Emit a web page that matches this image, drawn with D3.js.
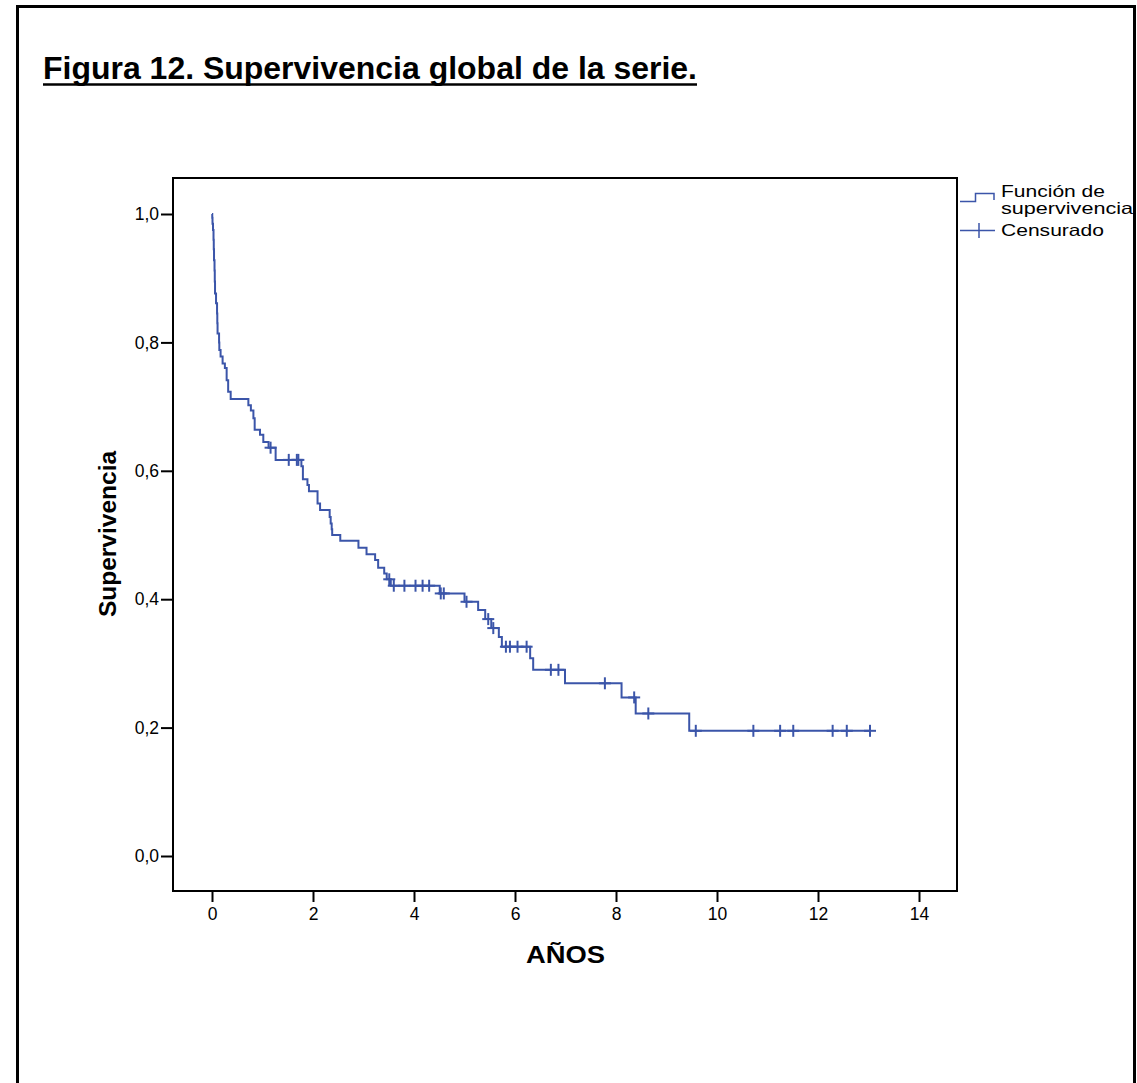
<!DOCTYPE html>
<html>
<head>
<meta charset="utf-8">
<script src="https://cdn.jsdelivr.net/npm/d3@7"></script>
<style>
  html, body { margin: 0; padding: 0; background: #fff; }
  svg { display: block; }
  text { font-family: "Liberation Sans", Arial, sans-serif; }
</style>
</head>
<body>
<svg id="chart" width="1137" height="1083"></svg>
<script>
// Kaplan-Meier estimate: event times (years) and survival after each drop
const eventTimes = [
  0.005, 0.010, 0.020, 0.030, 0.035, 0.040, 0.050, 0.055, 0.060, 0.080,
  0.100, 0.105, 0.110, 0.140, 0.145, 0.170, 0.210, 0.255, 0.290, 0.320,
  0.370, 0.720, 0.770, 0.820, 0.845, 0.950, 1.016, 1.120, 1.260, 1.770,
  1.800, 1.890, 1.920, 2.090, 2.140, 2.330, 2.350, 2.370, 2.380, 2.540,
  2.900, 3.060, 3.230, 3.290, 3.410, 3.460, 3.540, 4.510, 5.000, 5.270,
  5.410, 5.530, 5.680, 5.740, 6.300, 6.360, 6.990, 8.110, 8.390, 9.450
];
const survival = [
  0.994, 0.985, 0.975, 0.960, 0.945, 0.928, 0.912, 0.895, 0.876, 0.861,
  0.845, 0.830, 0.814, 0.800, 0.788, 0.778, 0.767, 0.760, 0.741, 0.723,
  0.712, 0.702, 0.694, 0.682, 0.664, 0.656, 0.645, 0.636, 0.617, 0.607,
  0.587, 0.578, 0.568, 0.549, 0.539, 0.528, 0.518, 0.509, 0.500, 0.491,
  0.480, 0.470, 0.461, 0.449, 0.440, 0.431, 0.421, 0.409, 0.396, 0.383,
  0.369, 0.355, 0.341, 0.326, 0.308, 0.290, 0.269, 0.247, 0.222, 0.195
];
// Censored observations (years)
const censoredTimes = [
  1.16, 1.52, 1.68, 1.71, 3.51, 3.60, 3.81, 4.03, 4.17, 4.30,
  4.53, 4.59, 5.04, 5.47, 5.57, 5.82, 5.90, 6.05, 6.23, 6.71,
  6.86, 7.78, 8.36, 8.64, 9.58, 10.72, 11.25, 11.51, 12.29, 12.57, 13.03
];
const xTicks = [0, 2, 4, 6, 8, 10, 12, 14];
const yTicks = [0, 0.2, 0.4, 0.6, 0.8, 1.0];

const titleText = "Figura 12. Supervivencia global de la serie.";
const xTitle = "AÑOS";
const yTitle = "Supervivencia";
const legendLabels = ["Función de", "supervivencia", "Censurado"];

const lineColor = "#3b55a9";
const svg = d3.select("#chart");

// page frame
svg.append("path")
  .attr("d", "M17.5,1090 V6.5 H1134.5 V1090")
  .attr("fill", "none").attr("stroke", "#000").attr("stroke-width", 3);

// title with underline
svg.append("text")
  .attr("x", 43).attr("y", 79)
  .attr("font-size", 32).attr("font-weight", "bold")
  .attr("textLength", 654).attr("lengthAdjust", "spacingAndGlyphs")
  .text(titleText);
svg.append("line")
  .attr("x1", 43).attr("x2", 697).attr("y1", 84.5).attr("y2", 84.5)
  .attr("stroke", "#000").attr("stroke-width", 2.5);

// plot area
const frame = { left: 173, right: 957, top: 178, bottom: 891 };
const x = d3.scaleLinear().domain([0, 14]).range([212, 919]);
const y = d3.scaleLinear().domain([0, 1]).range([856, 214]);

svg.append("rect")
  .attr("x", frame.left).attr("y", frame.top)
  .attr("width", frame.right - frame.left).attr("height", frame.bottom - frame.top)
  .attr("fill", "none").attr("stroke", "#000").attr("stroke-width", 2);

const fmt = d => d.toFixed(1).replace(".", ",");

const yAxis = svg.append("g")
  .attr("transform", `translate(${frame.left},0)`)
  .call(d3.axisLeft(y).tickValues(yTicks).tickSize(12).tickPadding(2).tickFormat(fmt));
const xAxis = svg.append("g")
  .attr("transform", `translate(0,${frame.bottom})`)
  .call(d3.axisBottom(x).tickValues(xTicks).tickSize(11).tickPadding(6).tickFormat(d3.format("d")));
[xAxis, yAxis].forEach(g => {
  g.select(".domain").remove();
  g.selectAll(".tick line").attr("stroke", "#000").attr("stroke-width", 2);
  g.selectAll(".tick text").attr("font-size", 17.5).attr("fill", "#000")
    .attr("font-family", "'Liberation Sans', Arial, sans-serif");
});

// axis titles
svg.append("text")
  .attr("x", 526).attr("y", 963)
  .attr("font-size", 24).attr("font-weight", "bold")
  .attr("textLength", 79).attr("lengthAdjust", "spacingAndGlyphs")
  .text(xTitle);
svg.append("text")
  .attr("transform", "translate(116,534) rotate(-90)")
  .attr("text-anchor", "middle").attr("font-size", 24.5).attr("font-weight", "bold")
  .text(yTitle);

// survival step function
const steps = [[0, 1]].concat(eventTimes.map((t, i) => [t, survival[i]]));
steps.push([d3.max(censoredTimes), survival[survival.length - 1]]);
const line = d3.line().x(d => x(d[0])).y(d => y(d[1])).curve(d3.curveStepAfter);
svg.append("path")
  .datum(steps)
  .attr("d", line)
  .attr("fill", "none").attr("stroke", lineColor).attr("stroke-width", 2);

// survival at a given time
const bis = d3.bisector(d => d).right;
const survAt = t => { const i = bis(eventTimes, t); return i === 0 ? 1 : survival[i - 1]; };

// censor marks
const marks = svg.append("g").attr("stroke", lineColor).attr("stroke-width", 2);
censoredTimes.forEach(t => {
  const cx = x(t), cy = y(survAt(t));
  marks.append("line").attr("x1", cx).attr("x2", cx).attr("y1", cy - 6).attr("y2", cy + 6);
  marks.append("line").attr("x1", cx - 6).attr("x2", cx + 6).attr("y1", cy).attr("y2", cy);
});

// legend
const lg = svg.append("g");
lg.append("path")
  .attr("d", "M960,201.5 H975.5 V193.5 H994 V200")
  .attr("fill", "none").attr("stroke", lineColor).attr("stroke-width", 1.5);
lg.append("line").attr("x1", 960).attr("x2", 995).attr("y1", 230.5).attr("y2", 230.5)
  .attr("stroke", lineColor).attr("stroke-width", 1.5);
lg.append("line").attr("x1", 979).attr("x2", 979).attr("y1", 223).attr("y2", 238)
  .attr("stroke", lineColor).attr("stroke-width", 1.5);
const lgPos = [[1001, 197, 104], [1001, 214, 132], [1001, 236, 103]];
legendLabels.forEach((s, i) => {
  lg.append("text")
    .attr("x", lgPos[i][0]).attr("y", lgPos[i][1])
    .attr("font-size", 16.5)
    .attr("textLength", lgPos[i][2]).attr("lengthAdjust", "spacingAndGlyphs")
    .text(s);
});
</script>
</body>
</html>
